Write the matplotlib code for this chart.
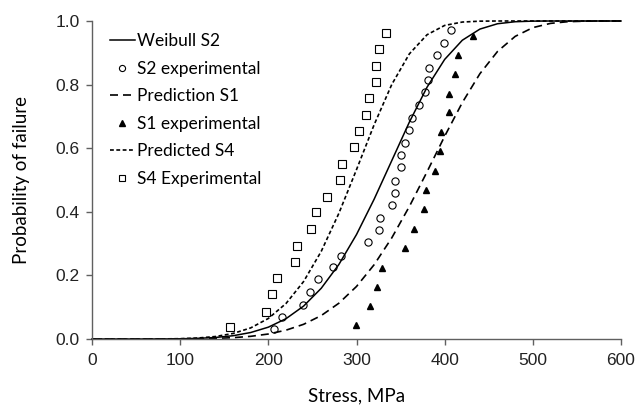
import numpy as np
import matplotlib
matplotlib.use("Agg")
import matplotlib.pyplot as plt

# stress grid for the fitted / predicted curves (MPa)
stress = np.arange(0, 601, 20)

# curve values
weibull_s2 = [0, 0, 0, 0, 0.0002, 0.0007, 0.0020, 0.0048, 0.0103, 0.0204, 0.0372,
              0.0638, 0.1035, 0.1595, 0.2343, 0.3285, 0.4396, 0.5609, 0.6823, 0.7918,
              0.8792, 0.9395, 0.9746, 0.9914, 0.9977, 0.9996, 1, 1, 1, 1, 1]
pred_s1 = [0, 0, 0, 0, 0.0001, 0.0002, 0.0007, 0.0019, 0.0042, 0.0084, 0.0157,
           0.0277, 0.0462, 0.0737, 0.1125, 0.1652, 0.2336, 0.3180, 0.4169, 0.5258,
           0.6376, 0.7434, 0.8344, 0.9044, 0.9517, 0.9792, 0.9925, 0.9979, 0.9995, 1, 1]
pred_s4 = [0, 0, 0, 0, 0.0003, 0.0010, 0.0031, 0.0078, 0.0174, 0.0349, 0.0646,
           0.1115, 0.1807, 0.2756, 0.3952, 0.5326, 0.6738, 0.8004, 0.8968, 0.9568,
           0.9861, 0.9967, 0.9995, 1, 1, 1, 1, 1, 1, 1, 1]

# experimental points
s2_x = [206, 216, 239, 247, 256, 273.6, 282, 312.5, 326, 327, 340.8, 343.8, 343.8,
        350, 351, 354.7, 360, 363, 371, 377.8, 381, 382.6, 391, 399.6, 407]
s2_y = [0.030, 0.068, 0.108, 0.147, 0.188, 0.225, 0.262, 0.304, 0.342, 0.381, 0.421,
        0.459, 0.498, 0.540, 0.578, 0.617, 0.656, 0.696, 0.736, 0.776, 0.814, 0.851,
        0.893, 0.932, 0.972]

s1_x = [299, 315, 323.4, 329, 355.5, 365, 376.6, 379, 389.5, 395, 396, 405.3, 405.3,
        412, 415, 432.5]
s1_y = [0.044, 0.104, 0.165, 0.224, 0.286, 0.347, 0.408, 0.469, 0.529, 0.591, 0.652,
        0.713, 0.771, 0.832, 0.893, 0.954]

s4_x = [156, 197, 204, 209.5, 230, 232, 248, 254, 266, 281.5, 283, 297, 303, 311,
        314, 322, 322.6, 326, 333.6]
s4_y = [0.039, 0.086, 0.141, 0.193, 0.243, 0.293, 0.346, 0.398, 0.448, 0.500, 0.550,
        0.603, 0.654, 0.704, 0.757, 0.809, 0.860, 0.912, 0.961]

label_font = ["Lato", "DejaVu Sans"]
tick_font = ["Liberation Sans", "DejaVu Sans"]

fig = plt.figure(figsize=(6.36, 4.05), dpi=100)
ax = fig.add_axes([92 / 636, 1 - 339 / 405, 529 / 636, 318 / 405])

ax.plot(stress, weibull_s2, color="black", lw=1.1, label="Weibull S2", clip_on=False)
ax.plot(s2_x, s2_y, "o", ms=5.2, mfc="none", mec="black", mew=0.8,
        label="S2 experimental", clip_on=False)
ax.plot(stress, pred_s1, color="black", lw=1.2, dashes=(4.8, 3.0),
        label="Prediction S1", clip_on=False)
ax.plot(s1_x, s1_y, "^", ms=4.6, color="black", label="S1 experimental", clip_on=False)
ax.plot(stress, pred_s4, color="black", lw=1.2, dashes=(2.3, 1.5),
        label="Predicted S4", clip_on=False)
ax.plot(s4_x, s4_y, "s", ms=5.8, mfc="none", mec="black", mew=0.8,
        label="S4 Experimental", clip_on=False)

ax.set_xlim(0, 600)
ax.set_ylim(0, 1.0)
ax.set_xticks(range(0, 601, 100))
ax.set_yticks([0, 0.2, 0.4, 0.6, 0.8, 1.0])
ax.set_yticklabels(["0.0", "0.2", "0.4", "0.6", "0.8", "1.0"])

for s in ["top", "right"]:
    ax.spines[s].set_visible(False)
for s in ["left", "bottom"]:
    ax.spines[s].set_color("#606060")
    ax.spines[s].set_linewidth(1.0)
ax.tick_params(direction="out", length=4, width=1.0, color="#606060",
               labelsize=12.5)
ax.tick_params(axis="x", pad=6)
ax.tick_params(axis="y", pad=5)
for t in ax.get_xticklabels() + ax.get_yticklabels():
    t.set_family(tick_font)
    t.set_color("#222222")

ax.set_xlabel("Stress, MPa", fontsize=13.5, family=label_font, labelpad=14)
ax.set_ylabel("Probability of failure", fontsize=13.5, family=label_font, labelpad=18)

leg = ax.legend(loc="upper left", bbox_to_anchor=(0.02, 0.983), frameon=False,
                prop={"family": label_font, "size": 12.5}, handlelength=1.45,
                handletextpad=0.15, labelspacing=0.66, borderaxespad=0.0,
                markerscale=0.85)

fig.savefig("out.png", dpi=100)
